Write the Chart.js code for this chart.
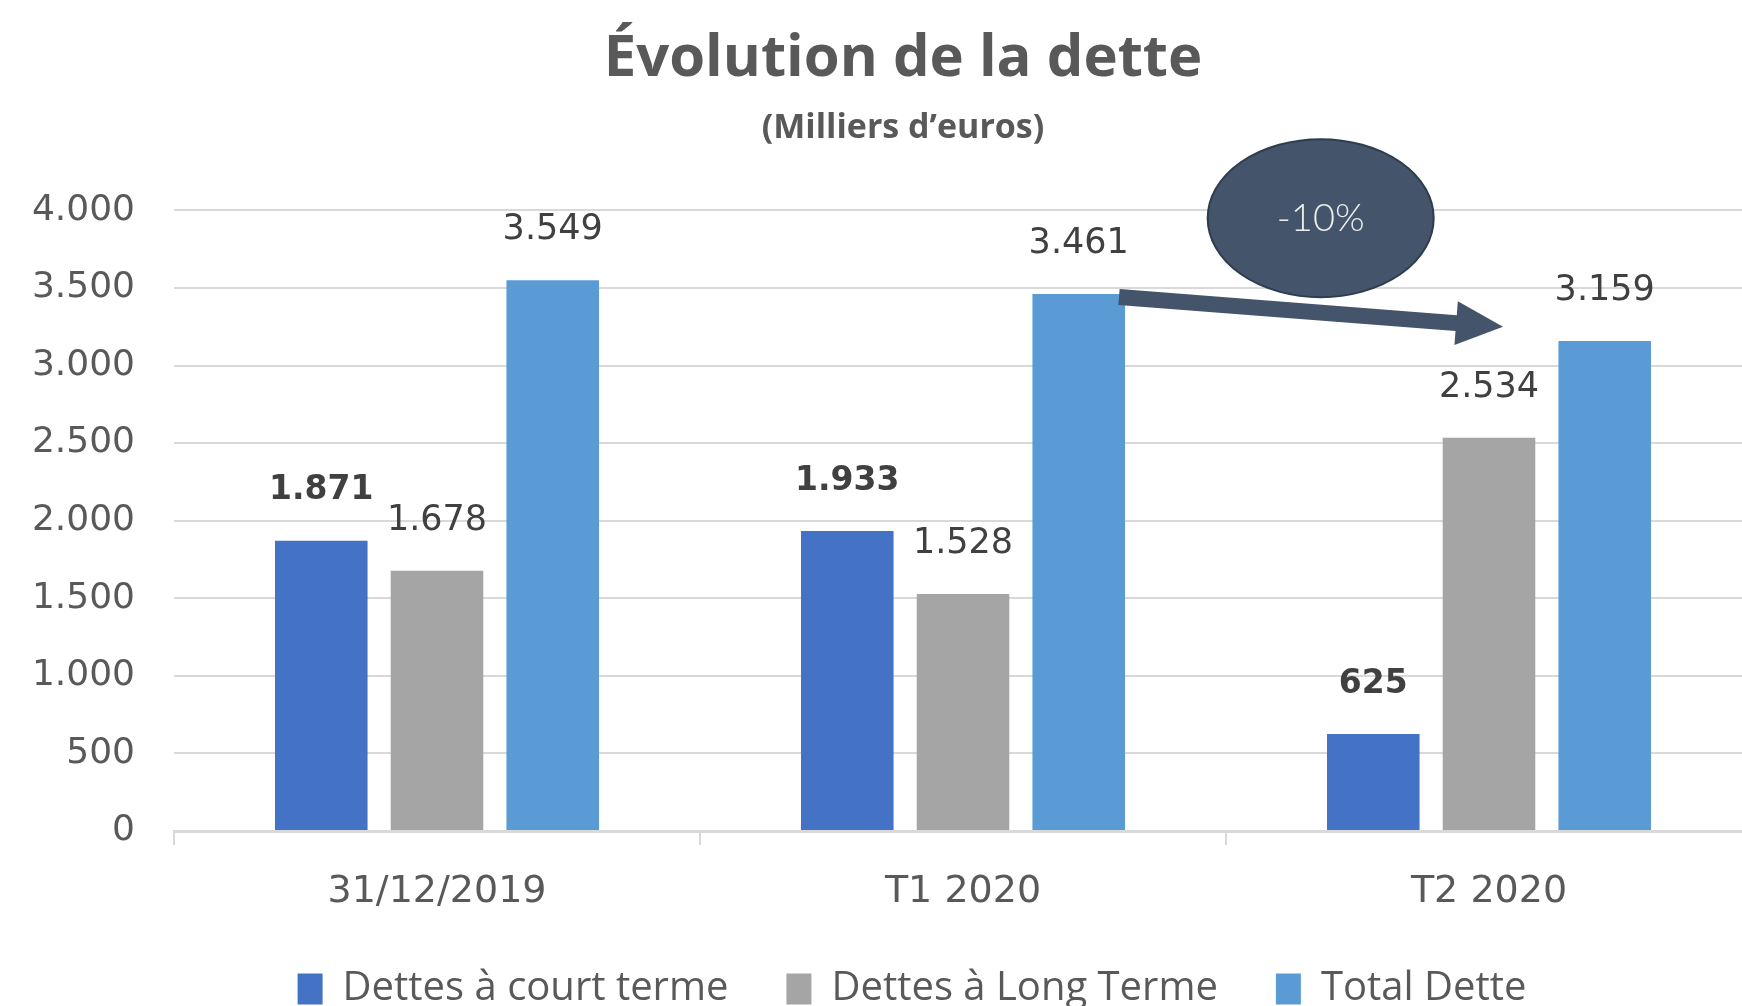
<!DOCTYPE html>
<html lang="fr">
<head>
<meta charset="utf-8">
<title>Évolution de la dette</title>
<script src="https://cdn.jsdelivr.net/npm/chart.js@4.4.1/dist/chart.umd.min.js"></script>
<style>
  html, body { margin: 0; padding: 0; background: #fff; overflow: hidden; }
  #wrap { position: relative; width: 1760px; height: 1019px; }
</style>
</head>
<body>
<div id="wrap"><canvas id="chart"></canvas></div>
<script>
(function () {
  'use strict';

  /* ---------- data ---------- */
  var categories = ['31/12/2019', 'T1 2020', 'T2 2020'];
  var seriesNames = ['Dettes à court terme', 'Dettes à Long Terme', 'Total Dette'];
  var courtTerme = [1871, 1933, 625];
  var longTerme = [1678, 1528, 2534];
  var totalDette = [3549, 3461, 3159];
  var yTicks = [0, 500, 1000, 1500, 2000, 2500, 3000, 3500, 4000];
  var titleText = 'Évolution de la dette';
  var subtitleText = '(Milliers d\u2019euros)';
  var variationLabel = '-10%';

  var colors = ['#4472C4', '#A5A5A5', '#5B9BD5'];
  var textGrey = '#595959';
  var gridGrey = '#D9D9D9';
  var numFont = "'DejaVu Sans', Verdana, sans-serif";
  var uiFont = "'Open Sans', 'Noto Sans', sans-serif";

  function fmt(v) {
    return String(v).replace(/\B(?=(\d{3})+(?!\d))/g, '.');
  }

  /* ---------- value labels above bars ---------- */
  var valueLabels = {
    id: 'valueLabels',
    afterDatasetsDraw: function (chart) {
      var ctx = chart.ctx;
      ctx.save();
      ctx.textAlign = 'center';
      ctx.textBaseline = 'middle';
      chart.data.datasets.forEach(function (ds, i) {
        var meta = chart.getDatasetMeta(i);
        ctx.font = (i === 0 ? 'bold 33px ' : '35px ') + numFont;
        ctx.fillStyle = '#404040';
        meta.data.forEach(function (bar, j) {
          ctx.fillText(fmt(ds.data[j]), bar.x, bar.y - 50);
        });
      });
      ctx.restore();
    }
  };

  /* titles and legend are centred a bit right of the canvas centre in the original */
  var boxShift = {
    id: 'boxShift',
    afterLayout: function (chart) {
      chart.boxes.forEach(function (box) {
        var shift = 0;
        if (box === chart.legend) shift = 36;
        else if (box.options && (box.options.text === titleText || box.options.text === subtitleText)) shift = 27;
        box.left += shift;
        box.right += shift;
      });
    }
  };

  /* ---------- -10% bubble and arrow ---------- */
  var variationNote = {
    id: 'variationNote',
    afterDraw: function (chart) {
      var ctx = chart.ctx;
      var y = chart.scales.y;
      var totalMeta = chart.getDatasetMeta(2);
      var longMeta = chart.getDatasetMeta(1);
      var fromBar = totalMeta.data[1];
      var toBar = longMeta.data[2];

      // arrow from the top of T1 total towards T2
      var x0 = fromBar.x + fromBar.width / 2 - 6;
      var y0 = y.getPixelForValue(totalDette[1]) + 3;
      var x1 = toBar.x + 14;
      var y1 = y.getPixelForValue(3250);
      var ang = Math.atan2(y1 - y0, x1 - x0);
      var headLen = 47, headHalf = 22, shaft = 8;

      ctx.save();
      ctx.translate(x0, y0);
      ctx.rotate(ang);
      var len = Math.hypot(x1 - x0, y1 - y0);
      ctx.fillStyle = '#44546A';
      ctx.beginPath();
      ctx.moveTo(0, -shaft);
      ctx.lineTo(len - headLen, -shaft);
      ctx.lineTo(len - headLen, -headHalf);
      ctx.lineTo(len, 0);
      ctx.lineTo(len - headLen, headHalf);
      ctx.lineTo(len - headLen, shaft);
      ctx.lineTo(0, shaft);
      ctx.closePath();
      ctx.fill();
      ctx.restore();

      // ellipse
      var xa = chart.scales.x.getPixelForValue(1);
      var xb = chart.scales.x.getPixelForValue(2);
      var cx = xa + (xb - xa) * 0.68;
      var cy = y.getPixelForValue(3950);
      ctx.save();
      ctx.beginPath();
      ctx.ellipse(cx, cy, 113, 79, 0, 0, Math.PI * 2);
      ctx.fillStyle = '#44546A';
      ctx.fill();
      ctx.lineWidth = 2;
      ctx.strokeStyle = '#2F3C4E';
      ctx.stroke();
      ctx.fillStyle = '#EDEDED';
      ctx.font = '300 38px Lato, sans-serif';
      ctx.textAlign = 'center';
      ctx.textBaseline = 'middle';
      ctx.fillText(variationLabel, cx, cy + 1);
      ctx.restore();
    }
  };

  var data = [courtTerme, longTerme, totalDette];

  new Chart(document.getElementById('chart'), {
    type: 'bar',
    data: {
      labels: categories,
      datasets: seriesNames.map(function (name, i) {
        return {
          label: name,
          data: data[i],
          backgroundColor: colors[i],
          borderWidth: 0,
          categoryPercentage: 0.66,
          barPercentage: 0.8
        };
      })
    },
    options: {
      responsive: true,
      maintainAspectRatio: false,
      animation: false,
      layout: { padding: { top: 0, right: 8, bottom: 0, left: 0 } },
      plugins: {
        title: {
          display: true,
          text: titleText,
          color: textGrey,
          font: { family: uiFont, size: 58, weight: 'bold' },
          padding: { top: 25, bottom: 0 }
        },
        subtitle: {
          display: true,
          text: subtitleText,
          color: textGrey,
          font: { family: uiFont, size: 34, weight: 'bold' },
          padding: { top: 13, bottom: 62 }
        },
        legend: {
          position: 'bottom',
          labels: {
            color: textGrey,
            font: { family: uiFont, size: 40 },
            boxWidth: 25,
            boxHeight: 31,
            padding: 58
          }
        },
        tooltip: { enabled: false }
      },
      scales: {
        x: {
          grid: {
            drawOnChartArea: false,
            drawTicks: true,
            tickLength: 14,
            color: gridGrey,
            lineWidth: 2
          },
          border: { color: gridGrey, width: 3 },
          ticks: {
            color: textGrey,
            font: { family: numFont, size: 38 },
            padding: 24,
            maxRotation: 0
          },
          afterFit: function (scale) { scale.height = 80; }
        },
        y: {
          min: 0,
          max: 4000,
          afterBuildTicks: function (scale) {
            scale.ticks = yTicks.map(function (v) { return { value: v }; });
          },
          grid: { color: gridGrey, lineWidth: 2, drawTicks: false },
          border: { display: false },
          ticks: {
            color: textGrey,
            font: { family: numFont, size: 36 },
            padding: 39,
            callback: function (v) { return fmt(v); }
          },
          afterFit: function (scale) { scale.width = 174; }
        }
      }
    },
    plugins: [valueLabels, boxShift, variationNote]
  });
})();
</script>
</body>
</html>
